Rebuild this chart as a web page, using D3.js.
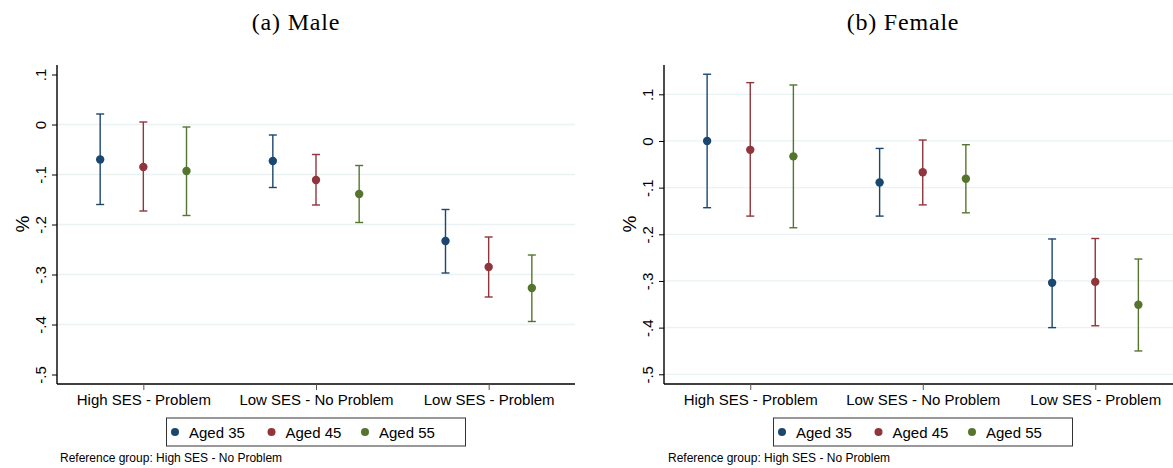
<!DOCTYPE html>
<html><head><meta charset="utf-8">
<script src="https://cdn.jsdelivr.net/npm/d3@7"></script>
<style>
html,body{margin:0;padding:0;background:#fff;}
svg{display:block;}
text{font-family:"Liberation Sans",Arial,sans-serif;fill:#000;}
</style></head>
<body>
<svg id="chart" width="1173" height="468"></svg>
<script>
const categories = ["High SES - Problem", "Low SES - No Problem", "Low SES - Problem"];
const seriesNames = ["Aged 35", "Aged 45", "Aged 55"];
const seriesColors = ["#1a476f", "#90353b", "#55752f"];
const yTicks = [0.1, 0, -0.1, -0.2, -0.3, -0.4, -0.5];
const yTickLabels = [".1", "0", "-.1", "-.2", "-.3", "-.4", "-.5"];
const footnote = "Reference group: High SES - No Problem";

// Male estimates and 95% CI
const male35 = [-0.070, -0.073, -0.233];
const male35Lo = [-0.160, -0.126, -0.297];
const male35Hi = [0.021, -0.021, -0.170];
const male45 = [-0.085, -0.111, -0.285];
const male45Lo = [-0.173, -0.161, -0.345];
const male45Hi = [0.005, -0.060, -0.225];
const male55 = [-0.093, -0.139, -0.327];
const male55Lo = [-0.182, -0.196, -0.394];
const male55Hi = [-0.005, -0.082, -0.261];

// Female estimates and 95% CI
const female35 = [0.000, -0.089, -0.304];
const female35Lo = [-0.143, -0.161, -0.400];
const female35Hi = [0.143, -0.016, -0.210];
const female45 = [-0.019, -0.067, -0.302];
const female45Lo = [-0.161, -0.137, -0.396];
const female45Hi = [0.125, 0.002, -0.209];
const female55 = [-0.033, -0.081, -0.351];
const female55Lo = [-0.186, -0.154, -0.450];
const female55Hi = [0.120, -0.008, -0.253];

const svg = d3.select("#chart");

function buildSeries(est, lo, hi) {
  return est.map((e, i) => ({ cat: categories[i], est: e, lo: lo[i], hi: hi[i] }));
}

function panel(opts) {
  const g = svg.append("g");
  const x = d3.scalePoint().domain(categories).range([opts.left, opts.right]).padding(0.5);
  const y = d3.scaleLinear().domain(opts.ydomain).range([opts.bottom, opts.top]);
  const off = x.step() / 4;
  const offsets = [-off, 0, off];

  // gridlines
  g.selectAll("line.grid").data(opts.grid).enter().append("line")
    .attr("x1", opts.left).attr("x2", opts.right)
    .attr("y1", d => y(d)).attr("y2", d => y(d))
    .attr("stroke", "#eaf2f3").attr("stroke-width", 1.3);

  // y axis
  const yAxis = d3.axisLeft(y).tickValues(yTicks).tickSize(5)
    .tickFormat((d, i) => yTickLabels[i]);
  const ya = g.append("g").attr("transform", `translate(${opts.left},0)`).call(yAxis);
  ya.select(".domain").attr("stroke", "#000").attr("stroke-width", 1.4)
    .attr("d", `M0,${opts.top}V${opts.bottom}`);
  ya.selectAll(".tick line").attr("stroke", "#000").attr("stroke-width", 1);
  ya.selectAll(".tick text")
    .attr("x", null).attr("dy", null)
    .style("font-size", "15px")
    .attr("text-anchor", "middle")
    .attr("transform", "translate(-11.5,0) rotate(-90)")
    .attr("y", 0)
    .attr("dy", "0em");

  // x axis
  const xAxis = d3.axisBottom(x).tickSize(6).tickPadding(4);
  const xa = g.append("g").attr("transform", `translate(0,${opts.bottom})`).call(xAxis);
  xa.select(".domain").attr("stroke", "#000").attr("stroke-width", 1.4)
    .attr("d", `M${opts.left},0H${opts.right}`);
  xa.selectAll(".tick line").attr("stroke", "#555").attr("stroke-width", 1);
  xa.selectAll(".tick text").style("font-size", "15px").attr("fill", "#000");

  // y title
  g.append("text").attr("transform", `translate(${opts.left - 28},${opts.ytitleY}) rotate(-90)`)
    .attr("text-anchor", "middle").style("font-size", "19px").text("%");

  // series
  opts.data.forEach((s, si) => {
    const sg = g.append("g");
    const col = seriesColors[si];
    const rows = s;
    sg.selectAll("line.v").data(rows).enter().append("line")
      .attr("x1", d => x(d.cat) + offsets[si]).attr("x2", d => x(d.cat) + offsets[si])
      .attr("y1", d => y(d.lo)).attr("y2", d => y(d.hi))
      .attr("stroke", col).attr("stroke-width", 1.4);
    ["lo", "hi"].forEach(k => {
      sg.selectAll("line.c" + k).data(rows).enter().append("line")
        .attr("x1", d => x(d.cat) + offsets[si] - 4).attr("x2", d => x(d.cat) + offsets[si] + 4)
        .attr("y1", d => y(d[k])).attr("y2", d => y(d[k]))
        .attr("stroke", col).attr("stroke-width", 1.4);
    });
    sg.selectAll("circle").data(rows).enter().append("circle")
      .attr("cx", d => x(d.cat) + offsets[si]).attr("cy", d => y(d.est))
      .attr("r", 4.2).attr("fill", col);
  });

  // title
  svg.append("text").attr("x", opts.titleX).attr("y", 30).attr("text-anchor", "middle")
    .style("font-family", "'Liberation Serif','Times New Roman',serif")
    .style("font-size", "24px").style("letter-spacing", "0.8px").text(opts.title);

  // legend
  const lg = svg.append("g").attr("transform", `translate(${opts.legendX},418)`);
  lg.append("rect").attr("x", 0).attr("y", 0).attr("width", 299).attr("height", 28)
    .attr("fill", "#fff").attr("stroke", "#333").attr("stroke-width", 1);
  const itemX = [8.5, 105, 198.5];
  seriesNames.forEach((n, i) => {
    lg.append("circle").attr("cx", itemX[i]).attr("cy", 14).attr("r", 4).attr("fill", seriesColors[i]);
    lg.append("text").attr("x", itemX[i] + 14).attr("y", 19.5).style("font-size", "15px").text(n);
  });

  // footnote
  svg.append("text").attr("x", opts.noteX).attr("y", 462).style("font-size", "12px").text(footnote);
}

panel({
  left: 57, right: 575, top: 65, bottom: 384,
  ydomain: [-0.519, 0.119],
  grid: [0, -0.1, -0.2, -0.3, -0.4],
  ytitleY: 224,
  title: "(a) Male", titleX: 296,
  legendX: 166.5, noteX: 60,
  data: [buildSeries(male35, male35Lo, male35Hi), buildSeries(male45, male45Lo, male45Hi), buildSeries(male55, male55Lo, male55Hi)]
});

panel({
  left: 664, right: 1181.5, top: 65, bottom: 384,
  ydomain: [-0.5208, 0.1628],
  grid: [0.1, 0, -0.1, -0.2, -0.3, -0.4, -0.5],
  ytitleY: 224,
  title: "(b) Female", titleX: 903,
  legendX: 773.5, noteX: 668,
  data: [buildSeries(female35, female35Lo, female35Hi), buildSeries(female45, female45Lo, female45Hi), buildSeries(female55, female55Lo, female55Hi)]
});
</script>
</body></html>
